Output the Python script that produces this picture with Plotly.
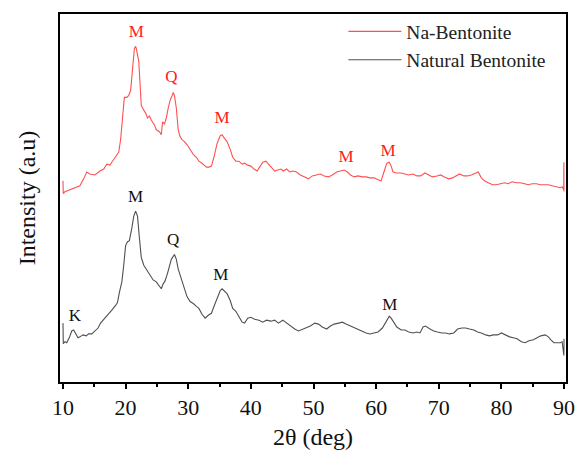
import plotly.graph_objects as go

# ---- data (2θ in degrees, intensity in arbitrary units) ----
two_theta_na = [10.0, 10.05, 10.3, 11.1, 11.9, 12.7, 13.3, 13.8, 14.3, 15.1, 15.9, 16.5, 17.0, 17.5, 17.9,
    18.6, 18.9, 19.2, 19.5, 19.8, 20.2, 20.5, 20.8, 21.1, 21.4, 21.6, 21.7, 22.1, 22.4, 22.5, 22.9,
    23.2, 23.5, 23.8, 24.1, 24.6, 24.9, 25.4, 25.7, 25.9, 26.2, 26.5, 26.8, 27.1, 27.5, 27.6, 27.8,
    28.1, 28.4, 28.7, 29.0, 29.4, 29.8, 30.3, 30.8, 31.3, 31.7, 32.2, 32.9, 33.3, 33.7, 34.1, 34.6,
    35.1, 35.4, 35.7, 36.2, 36.7, 37.1, 37.6, 38.1, 38.6, 39.0, 39.5, 40.0, 40.5, 41.0, 41.4, 41.9,
    42.4, 42.9, 43.3, 43.8, 44.3, 44.8, 45.2, 45.7, 46.2, 46.7, 47.3, 47.9, 48.6, 49.2, 49.8, 50.5,
    51.1, 51.7, 52.4, 53.0, 53.7, 54.3, 54.9, 55.4, 55.9, 56.5, 57.1, 57.8, 58.4, 59.0, 59.7, 60.3,
    60.8, 61.3, 61.7, 62.1, 62.4, 62.7, 63.3, 64.0, 64.6, 65.2, 65.9, 66.5, 67.1, 67.8, 68.4, 69.0,
    69.7, 70.3, 70.9, 71.6, 72.2, 72.9, 73.3, 74.0, 74.6, 75.2, 75.9, 76.3, 76.8, 77.3, 77.9, 78.6,
    79.2, 79.8, 80.5, 81.1, 81.7, 82.4, 83.0, 83.7, 84.3, 84.9, 85.6, 86.2, 86.8, 87.5, 88.1, 88.7,
    89.4, 89.7, 89.95, 89.98, 90.0]
intensity_na = [205, 192, 194, 196, 198, 200, 207, 214, 212, 211, 215, 217, 222, 221, 225,
    231, 234, 247, 272, 290, 290, 292, 297, 317, 340, 342, 340, 327, 297, 282, 277,
    274, 269, 271, 267, 262, 257, 255, 252, 265, 263, 269, 279, 287, 293, 295, 292,
    279, 257, 250, 247, 245, 242, 237, 232, 229, 225, 223, 219, 219, 220, 229, 243,
    251, 252, 249, 245, 237, 229, 225, 225, 222, 223, 221, 220, 217, 215, 219, 224,
    225, 221, 218, 215, 216, 217, 215, 217, 214, 215, 214, 211, 209, 207, 210, 211,
    212, 210, 209, 211, 214, 215, 216, 214, 211, 209, 210, 209, 209, 208, 208, 206,
    205, 215, 223, 224, 220, 214, 213, 213, 212, 211, 212, 210, 210, 213, 211, 209,
    210, 211, 209, 207, 208, 211, 212, 210, 210, 211, 213, 214, 208, 205, 203, 201,
    201, 202, 203, 202, 204, 203, 203, 202, 201, 202, 202, 201, 201, 201, 200, 199,
    198, 199, 196, 224, 194]

two_theta_nat = [10.0, 10.05, 10.3, 10.6, 11.0, 11.4, 11.7, 12.1, 12.4, 12.7, 13.2, 13.7, 14.1, 14.6, 15.1,
    15.6, 16.0, 16.5, 17.0, 17.5, 17.9, 18.4, 18.7, 19.0, 19.4, 19.7, 20.0, 20.3, 20.6, 21.0, 21.3,
    21.6, 21.9, 22.2, 22.5, 22.9, 23.2, 23.5, 24.0, 24.4, 24.9, 25.4, 25.7, 26.0, 26.3, 26.7, 27.0,
    27.3, 27.8, 28.1, 28.4, 28.7, 29.0, 29.4, 29.8, 30.3, 30.8, 31.3, 31.7, 32.2, 32.7, 33.2, 33.7,
    34.1, 34.6, 35.1, 35.4, 35.7, 36.2, 36.7, 37.1, 37.6, 38.1, 38.6, 39.0, 39.5, 40.0, 40.6, 41.3,
    41.9, 42.5, 43.2, 43.8, 44.4, 45.1, 45.7, 46.3, 47.0, 47.6, 48.3, 48.9, 49.5, 50.2, 50.8, 51.4,
    52.1, 52.7, 53.3, 54.0, 54.6, 55.2, 55.9, 56.5, 57.1, 57.8, 58.4, 59.0, 59.7, 60.3, 61.0, 61.6,
    62.1, 62.4, 62.9, 63.3, 64.0, 64.6, 65.2, 65.9, 66.5, 67.0, 67.5, 67.9, 68.6, 69.2, 69.8, 70.5,
    71.1, 71.7, 72.4, 73.0, 73.7, 74.3, 74.9, 75.6, 76.2, 76.8, 77.5, 78.1, 78.7, 79.4, 80.0, 80.6,
    81.3, 81.9, 82.5, 83.2, 83.8, 84.4, 85.1, 85.7, 86.3, 87.0, 87.5, 87.9, 88.4, 88.9, 89.4, 89.7,
    89.98, 90.0]
intensity_nat = [60, 39, 41, 40, 45, 52, 53, 49, 45, 46, 48, 47, 49, 49, 52,
    55, 60, 64, 68, 71, 74, 78, 81, 91, 102, 119, 139, 143, 144, 157, 169,
    174, 169, 147, 127, 119, 116, 113, 109, 104, 102, 97, 95, 100, 103, 111, 119,
    125, 130, 125, 115, 109, 104, 97, 87, 82, 80, 77, 75, 69, 65, 68, 70,
    77, 85, 93, 95, 93, 90, 83, 75, 72, 67, 61, 60, 65, 66, 64, 63,
    61, 63, 62, 63, 60, 63, 60, 57, 54, 52, 54, 55, 57, 60, 59, 56,
    54, 57, 59, 60, 61, 59, 57, 56, 54, 52, 50, 49, 50, 51, 55, 62,
    67, 65, 60, 56, 53, 53, 51, 50, 51, 50, 56, 57, 54, 52, 51, 50,
    50, 49, 50, 54, 55, 55, 54, 53, 51, 50, 48, 47, 48, 48, 50, 48,
    46, 45, 44, 41, 40, 42, 43, 45, 47, 48, 46, 43, 40, 40, 40, 41,
    27, 44]

# peak labels (phase letter, 2θ, height of label)
na_peak_labels = ["M", "Q", "M", "M", "M"]
na_peak_theta = [21.7, 27.3, 35.4, 55.2, 61.9]
na_peak_height = [356, 310, 268, 229, 235]

nat_peak_labels = ["M", "Q", "M", "K", "M"]
nat_peak_theta = [21.6, 27.6, 35.2, 11.9, 62.2]
nat_peak_height = [188, 144, 108, 66, 78]

series_names = ["Na-Bentonite", "Natural Bentonite"]
RED = "#ff5050"
GREY = "#505050"
FONT = "Liberation Serif, Times New Roman, serif"

fig = go.Figure()
fig.add_trace(go.Scatter(x=two_theta_na, y=intensity_na, mode="lines", name=series_names[0],
                         line=dict(color=RED, width=1.1)))
fig.add_trace(go.Scatter(x=two_theta_nat, y=intensity_nat, mode="lines", name=series_names[1],
                         line=dict(color=GREY, width=1.1)))
fig.add_trace(go.Scatter(x=na_peak_theta, y=na_peak_height, mode="text", text=na_peak_labels,
                         textfont=dict(family=FONT, size=17, color="#ff1a1a"), showlegend=False,
                         hoverinfo="skip"))
fig.add_trace(go.Scatter(x=nat_peak_theta, y=nat_peak_height, mode="text", text=nat_peak_labels,
                         textfont=dict(family=FONT, size=17, color="#111111"), showlegend=False,
                         hoverinfo="skip"))

fig.update_layout(
    width=587, height=458,
    margin=dict(l=60, r=18, t=12, b=71),
    paper_bgcolor="white", plot_bgcolor="white",
    font=dict(family=FONT, color="black"),
    showlegend=True,
    legend=dict(x=0.56, y=1.005, xanchor="left", yanchor="top",
                bgcolor="rgba(0,0,0,0)", font=dict(family=FONT, size=19.5, color="#222"),
                itemwidth=53, tracegroupgap=0),
    xaxis=dict(range=[9.524, 90.317], tickmode="array", tickvals=[10, 20, 30, 40, 50, 60, 70, 80, 90],
               ticks="outside", ticklen=5, tickwidth=1.5, tickcolor="black",
               minor=dict(ticks="outside", ticklen=3, tickwidth=1.5, tickcolor="black", dtick=5, tick0=5),
               showline=True, linewidth=2, linecolor="black", mirror=True,
               showgrid=False, zeroline=False,
               tickfont=dict(family=FONT, size=22, color="#111"),
               title=dict(text="2θ (deg)", font=dict(family=FONT, size=24, color="#111"), standoff=9)),
    yaxis=dict(range=[0, 375], showticklabels=False, ticks="",
               showline=True, linewidth=2, linecolor="black", mirror=True,
               showgrid=False, zeroline=False,
               title=dict(text="Intensity (a.u)", font=dict(family=FONT, size=24, color="#111"), standoff=16)),
)

fig.write_html("out.html")
